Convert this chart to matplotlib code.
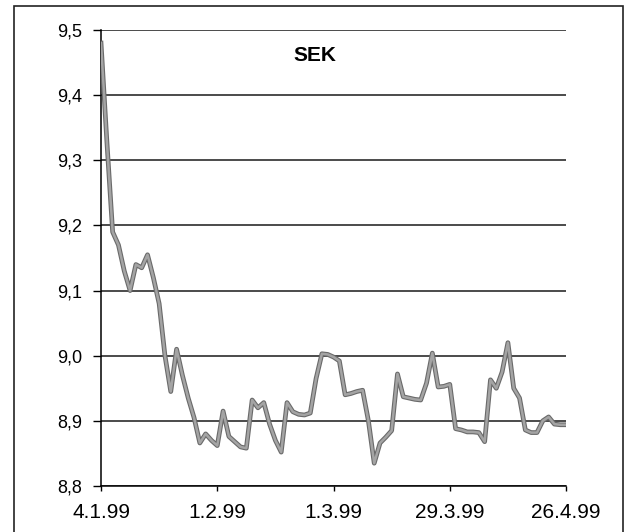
import matplotlib
matplotlib.use("Agg")
import matplotlib.pyplot as plt
import matplotlib.patheffects as pe
from matplotlib.patches import Rectangle

# SEK rate, one value per trading day, 4.1.99 .. 26.4.99
sek = [
    9.48, 9.33, 9.19, 9.17, 9.13, 9.10, 9.14, 9.135, 9.155, 9.12,
    9.08, 9.00, 8.945, 9.01, 8.97, 8.935, 8.905, 8.866, 8.88, 8.87,
    8.862, 8.915, 8.876, 8.868, 8.86, 8.858, 8.932, 8.92, 8.928, 8.895,
    8.87, 8.852, 8.928, 8.914, 8.91, 8.909, 8.912, 8.965, 9.003, 9.002,
    8.998, 8.992, 8.94, 8.942, 8.945, 8.947, 8.90, 8.835, 8.866, 8.875,
    8.885, 8.972, 8.937, 8.935, 8.933, 8.932, 8.958, 9.004, 8.952, 8.953,
    8.956, 8.888, 8.886, 8.883, 8.883, 8.882, 8.868, 8.963, 8.95, 8.975,
    9.02, 8.95, 8.935, 8.886, 8.882, 8.882, 8.90, 8.906, 8.895, 8.894,
    8.894,
]
tick_pos = [0, 20, 40, 60, 80]
tick_labels = ["4.1.99", "1.2.99", "1.3.99", "29.3.99", "26.4.99"]
y_ticks = [8.8, 8.9, 9.0, 9.1, 9.2, 9.3, 9.4, 9.5]


def comma(v, pos):
    return f"{v:.1f}".replace(".", ",")


def main():
    plt.rcParams["font.family"] = ["Liberation Sans", "DejaVu Sans"]
    fig = plt.figure(figsize=(6.29, 5.32), dpi=100)
    ax = fig.add_axes([0.1606, 0.0865, 0.7393, 0.857])

    for v in y_ticks:
        ax.axhline(v, color="#1a1a1a", lw=1.1, zorder=1)

    ax.plot(range(len(sek)), sek, color="#a4a4a4", lw=1.8, zorder=3,
            path_effects=[pe.Stroke(linewidth=3.4, foreground="#6a6a6a"),
                          pe.Normal()])

    ax.set_xlim(0, 80)
    ax.set_ylim(8.8, 9.5)
    ax.set_xticks(tick_pos)
    ax.set_xticklabels(tick_labels)
    ax.set_yticks(y_ticks)
    ax.yaxis.set_major_formatter(plt.FuncFormatter(comma))
    ax.tick_params(axis="y", direction="out", length=6, width=1,
                   labelsize=13, pad=7.5)
    ax.tick_params(axis="x", direction="out", length=3.5, width=1,
                   labelsize=15, pad=9)
    for side in ["top", "right"]:
        ax.spines[side].set_visible(False)
    ax.spines["left"].set_linewidth(1.1)
    ax.spines["bottom"].set_linewidth(1.1)

    ax.text(0.459, 0.945, "SEK", transform=ax.transAxes, ha="center",
            va="center", fontsize=15, fontweight="bold")

    fig.patches.append(Rectangle((14 / 629, -0.01), 609 / 629, 1.0 - 6 / 532 + 0.01,
                                 transform=fig.transFigure, fill=False,
                                 edgecolor="#222222", lw=1.2))

    fig.savefig("out.png", dpi=100, facecolor="white")


if __name__ == "__main__":
    main()
